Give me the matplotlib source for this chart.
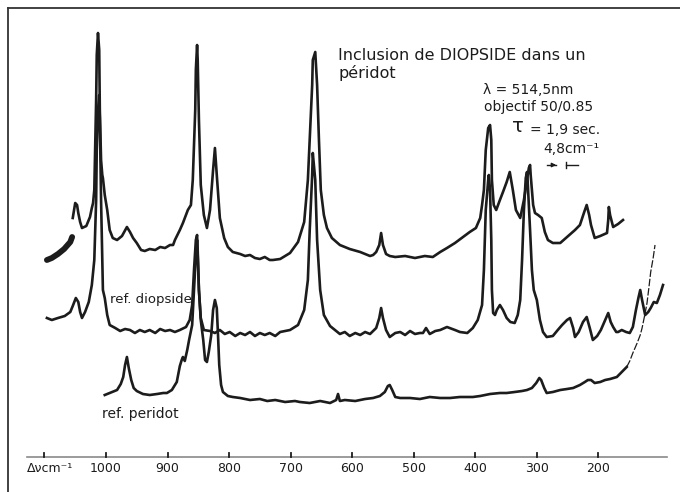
import matplotlib
matplotlib.use("Agg")
import matplotlib.pyplot as plt
from matplotlib.lines import Line2D

# --- spectra (wavenumber in cm-1, pen height in arbitrary units)
# inclusion of diopside in peridot (top trace)
top_nu = [1054, 1050, 1047, 1045, 1042, 1039, 1032, 1026, 1023, 1021, 1019, 1018, 1016, 1015,
          1013, 1011, 1010, 1008, 1006, 1005, 1002, 998, 994, 989, 982, 974, 966, 961, 956, 950,
          943, 937, 929, 920, 912, 904, 896, 891, 888, 880, 875, 870, 867, 862, 859, 855, 854,
          852, 851, 849, 846, 841, 836, 831, 826, 823, 820, 815, 808, 802, 794, 782, 774, 766,
          758, 750, 742, 734, 729, 717, 701, 688, 678, 672, 669, 665, 664, 660, 657, 654, 651,
          646, 641, 633, 620, 604, 587, 571, 566, 561, 556, 553, 550, 545, 539, 530, 514, 498,
          482, 469, 457, 446, 433, 422, 409, 399, 392, 389, 386, 383, 379, 376, 374, 373, 370,
          366, 360, 355, 349, 344, 339, 334, 327, 321, 316, 313, 311, 310, 306, 303, 298, 292,
          287, 282, 274, 262, 249, 238, 230, 223, 219, 215, 212, 206, 197, 186, 184, 183, 181,
          176, 168, 160]
top_h = [274, 289, 287, 279, 270, 264, 266, 275, 284, 289, 302, 332, 392, 437,
         459, 442, 382, 332, 317, 314, 297, 282, 262, 254, 252, 256, 265, 260, 254, 249,
         242, 241, 243, 242, 245, 244, 247, 247, 252, 262, 269, 277, 282, 287, 312, 382, 422,
         447, 432, 372, 307, 277, 264, 282, 322, 344, 317, 274, 254, 245, 240, 238, 236, 237,
         234, 233, 235, 232, 232, 233, 239, 250, 270, 312, 352, 407, 432, 440, 407, 352, 302,
         277, 264, 254, 247, 243, 240, 236, 237, 240, 247, 259, 247, 238, 236, 235, 236, 234,
         236, 235, 240, 244, 249, 254, 260, 264, 274, 287, 302, 342, 364, 367, 352, 312, 287,
         282, 292, 300, 310, 320, 302, 282, 274, 292, 312, 324, 327, 317, 287, 279, 277, 274,
         260, 252, 249, 249, 256, 262, 267, 280, 287, 277, 267, 254, 256, 259, 272, 285, 277,
         265, 268, 272]

# heavy pen stroke at the start of the top trace
smear_nu = [1096, 1088, 1078, 1068, 1058, 1055]
smear_h = [232, 234, 238, 243, 250, 255]

# reference diopside (middle trace)
dio_nu = [1096, 1088, 1078, 1067, 1058, 1054, 1049, 1045, 1042, 1039, 1034, 1028, 1023, 1019,
          1016, 1015, 1013, 1011, 1010, 1008, 1006, 1005, 1002, 998, 994, 985, 977, 969, 961,
          953, 945, 937, 929, 920, 912, 904, 896, 888, 880, 870, 864, 860, 857, 854, 852, 851,
          849, 846, 841, 831, 823, 815, 807, 799, 790, 782, 774, 766, 758, 750, 742, 734, 725,
          717, 709, 701, 688, 678, 672, 669, 665, 664, 660, 657, 652, 646, 636, 628, 620, 612,
          604, 595, 587, 579, 571, 561, 556, 553, 550, 545, 539, 530, 522, 514, 506, 498, 490,
          485, 480, 474, 465, 457, 446, 433, 425, 413, 404, 396, 389, 386, 383, 379, 378, 376,
          374, 373, 371, 368, 365, 360, 355, 349, 343, 336, 331, 327, 324, 321, 318, 316, 315,
          311, 308, 305, 300, 295, 290, 284, 274, 266, 259, 251, 246, 241, 238, 232, 225, 219,
          214, 209, 202, 196, 189, 184, 180, 176, 171, 168, 162, 155, 149, 144, 139, 135, 132,
          129, 124, 119, 115, 110, 105, 100, 95]
dio_h = [174, 172, 174, 176, 180, 186, 194, 190, 180, 174, 180, 190, 207, 232,
         292, 342, 382, 397, 372, 292, 232, 202, 194, 177, 167, 164, 161, 163, 162,
         159, 162, 160, 162, 159, 163, 161, 162, 160, 162, 165, 172, 187, 222, 252, 257, 242,
         202, 174, 162, 161, 159, 162, 158, 160, 156, 159, 157, 160, 156, 159, 157, 159, 156,
         160, 161, 162, 167, 182, 212, 262, 317, 339, 312, 252, 202, 177, 166, 162, 158, 160,
         156, 159, 157, 160, 158, 164, 174, 184, 174, 162, 155, 159, 160, 157, 161, 158, 159,
         159, 164, 158, 161, 162, 165, 162, 160, 159, 164, 172, 187, 222, 282, 312, 317, 302,
         252, 202, 179, 177, 182, 187, 182, 174, 170, 169, 177, 192, 232, 282, 314, 320, 312,
         262, 222, 202, 192, 172, 160, 155, 156, 162, 167, 172, 174, 164, 155, 160, 170, 175,
         164, 152, 156, 162, 172, 179, 170, 165, 160, 160, 162, 160, 159, 165, 182, 194, 202,
         192, 177, 180, 184, 190, 189, 197, 207]

# reference peridot (bottom trace)
per_nu = [1002, 994, 982, 976, 972, 969, 966, 963, 959, 955, 950, 940, 929, 917, 907, 901, 893,
          885, 880, 877, 875, 872, 868, 865, 860, 857, 854, 852, 851, 849, 846, 842, 839, 836,
          833, 829, 826, 823, 820, 818, 816, 813, 810, 802, 794, 782, 766, 750, 738, 725, 709,
          693, 685, 669, 652, 636, 626, 623, 620, 612, 595, 579, 566, 555, 547, 542, 539, 535,
          530, 522, 506, 490, 474, 457, 441, 425, 404, 392, 376, 360, 349, 336, 324, 316, 308,
          301, 296, 293, 288, 284, 274, 262, 251, 241, 230, 222, 217, 212, 206, 197, 189, 181,
          170, 162, 154, 149, 144, 137, 132, 129, 124, 121, 118, 115, 111, 108]
per_h = [97, 99, 102, 108, 115, 127, 135, 124, 112, 104, 101, 98, 97, 98, 99, 99, 102,
         110, 126, 132, 135, 131, 142, 152, 167, 202, 237, 252, 237, 202, 172, 152, 132, 130,
         140, 157, 182, 192, 184, 157, 127, 107, 100, 96, 95, 94, 92, 93, 91, 92, 90,
         91, 90, 89, 91, 89, 92, 98, 91, 92, 91, 93, 94, 96, 100, 106, 107, 102,
         95, 94, 94, 93, 95, 94, 94, 95, 95, 96, 98, 99, 99, 100, 101, 102, 104,
         109, 114, 112, 104, 99, 100, 102, 103, 104, 107, 110, 112, 112, 109, 110, 112, 113,
         115, 120, 125, 131, 139, 149, 157, 164, 179, 189, 204, 220, 234, 247]

tick_values = [1100, 1000, 900, 800, 700, 600, 500, 400, 300, 200]
tick_labels = ["", "1000", "900", "800", "700", "600", "500", "400", "300", "200"]

ink = "#1c1c1c"
W, H = 680, 492


def fpos(x, y):
    # pixel position on the sheet -> figure fraction
    return x / W, 1 - y / H


fig = plt.figure(figsize=(6.8, 4.92), dpi=100)
fig.patch.set_facecolor("white")
ax = fig.add_axes([0, 0, 1, 1])
ax.set_xlim(1172.2, 67.4)
ax.set_ylim(0, 492)
ax.axis("off")

# spectra
ax.plot(smear_nu, smear_h, color=ink, lw=4.2, solid_capstyle="round")
ax.plot(top_nu, top_h, color=ink, lw=1.9, solid_joinstyle="round")
ax.plot(dio_nu, dio_h, color=ink, lw=1.9, solid_joinstyle="round")
cut = per_nu.index(154)
ax.plot(per_nu[:cut + 1], per_h[:cut + 1], color=ink, lw=1.9, solid_joinstyle="round")
ax.plot(per_nu[cut:], per_h[cut:], color=ink, lw=0.9, dashes=(6, 1.5))

# wavenumber axis drawn at the bottom of the sheet
ax.plot([1128, 88], [35, 35], color="#8a8a8a", lw=1.2)
for v, lab in zip(tick_values, tick_labels):
    ax.plot([v, v], [35, 39], color=ink, lw=1.3)
    if lab:
        ax.text(v, 24, lab, ha="center", va="center", fontsize=9, color=ink)
ax.text(1128, 24, "Δνcm⁻¹", ha="left", va="center", fontsize=9, color=ink)

# frame of the sheet (left and top edges)
fig.add_artist(Line2D([8 / W, 8 / W], [0, 1 - 8 / H], color="#333333", lw=1.3))
fig.add_artist(Line2D([8 / W, 1], [1 - 8 / H, 1 - 8 / H], color="#333333", lw=1.3))

# annotations
fig.text(*fpos(338, 55), "Inclusion de DIOPSIDE dans un", fontsize=11.5, color=ink,
         ha="left", va="center")
fig.text(*fpos(338, 73), "péridot", fontsize=11.5, color=ink, ha="left", va="center")
fig.text(*fpos(483, 90), "λ = 514,5nm", fontsize=10, color=ink, ha="left", va="center")
fig.text(*fpos(484, 107), "objectif 50/0.85", fontsize=10, color=ink, ha="left", va="center")
fig.text(*fpos(512, 127), "τ", fontsize=14, color=ink, ha="left", va="center")
fig.text(*fpos(530, 130), "= 1,9 sec.", fontsize=10, color=ink, ha="left", va="center")
fig.text(*fpos(543, 149), "4,8cm⁻¹", fontsize=10, color=ink, ha="left", va="center")
fig.add_artist(plt.Line2D([547 / W, 556 / W], [1 - 165 / H] * 2, color=ink, lw=1))
fig.add_artist(plt.Line2D([566 / W, 578 / W], [1 - 165 / H] * 2, color=ink, lw=1))
fig.add_artist(plt.Line2D([566 / W, 566 / W], [1 - 162 / H, 1 - 168 / H], color=ink, lw=1))
ax.annotate("", xy=fpos(559, 165), xytext=fpos(550, 165), xycoords="figure fraction",
            arrowprops=dict(arrowstyle="-|>", color=ink, lw=1, mutation_scale=6))

fig.text(*fpos(110, 300), "ref. diopside", fontsize=9.5, color=ink, ha="left", va="center")
fig.text(*fpos(102, 414), "ref. peridot", fontsize=10, color=ink, ha="left", va="center")

plt.savefig("out.png", dpi=100, facecolor="white")
plt.close()
